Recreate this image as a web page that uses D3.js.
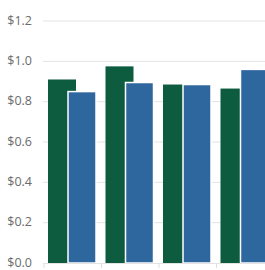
<!DOCTYPE html>
<html>
<head>
<meta charset="utf-8">
<script src="https://cdn.jsdelivr.net/npm/d3@7"></script>
<style>
  body { margin: 0; background: #fff; }
  svg { display: block; }
</style>
</head>
<body>
<svg id="chart"></svg>
<script>
const categories = ["A", "B", "C", "D"];
const series = ["green", "blue"];
const greenValues = [0.91, 0.975, 0.885, 0.865];
const blueValues = [0.85, 0.895, 0.885, 0.96];
const yTicks = [0, 0.2, 0.4, 0.6, 0.8, 1.0, 1.2];

const width = 265, height = 270;
const colors = { green: "#0d5c40", blue: "#2e669e" };

const svg = d3.select("#chart").attr("width", width).attr("height", height);

const y = d3.scaleLinear().domain([0, 1.2]).range([263, 21]);
const x = d3.scaleBand().domain(categories).range([44, 274]).padding(0);
// the two bars of a group overlap, blue drawn over green
const xs = d3.scaleBand().domain(series).range([4, 44]).padding(0);
const barW = 28;

// grid
svg.append("g")
    .selectAll("line")
    .data(yTicks.filter(d => d > 0))
    .enter().append("line")
    .attr("x1", 43).attr("x2", width)
    .attr("y1", d => y(d)).attr("y2", d => y(d))
    .attr("stroke", "#e3e3e3")
    .attr("stroke-width", 1);

// y labels
svg.append("g")
    .selectAll("text")
    .data(yTicks)
    .enter().append("text")
    .attr("x", 32)
    .attr("y", d => y(d))
    .attr("dy", "0.3em")
    .attr("text-anchor", "end")
    .style("font-family", "'Open Sans', sans-serif")
    .style("font-size", "12.5px")
    .style("fill", "#6b6b6b")
    .text(d => "$" + d.toFixed(1));

const rows = categories.map((c, i) => ({ cat: c, green: greenValues[i], blue: blueValues[i] }));

series.forEach(s => {
    svg.append("g")
        .selectAll("rect")
        .data(rows)
        .enter().append("rect")
        .attr("x", d => x(d.cat) + xs(s))
        .attr("y", d => y(d[s]))
        .attr("width", barW)
        .attr("height", d => y(0) - y(d[s]))
        .attr("fill", colors[s])
        .attr("stroke", s === "blue" ? "#fff" : "none")
        .attr("stroke-width", 1.5);
});

// bottom axis
svg.append("line")
    .attr("x1", 43).attr("x2", width)
    .attr("y1", y(0) + 0.5).attr("y2", y(0) + 0.5)
    .attr("stroke", "#e3e3e3");

svg.append("g")
    .selectAll("line")
    .data(categories)
    .enter().append("line")
    .attr("x1", d => x(d)).attr("x2", d => x(d))
    .attr("y1", y(0)).attr("y2", y(0) + 5)
    .attr("stroke", "#e0e0e0");
</script>
</body>
</html>
